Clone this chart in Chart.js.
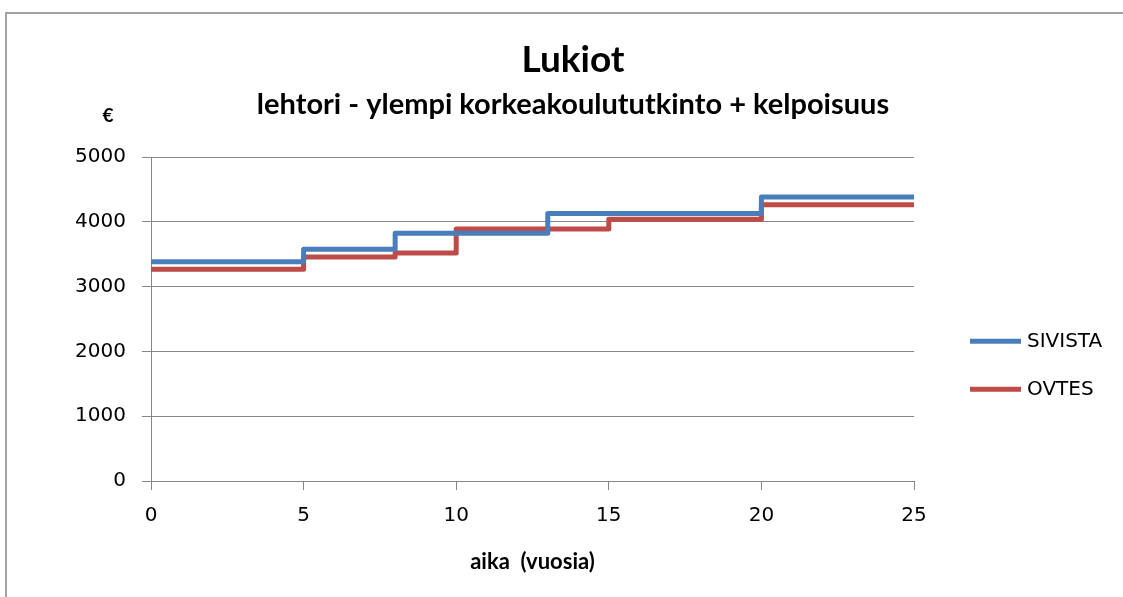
<!DOCTYPE html>
<html>
<head>
<meta charset="utf-8">
<script src="https://cdn.jsdelivr.net/npm/chart.js@4.4.1/dist/chart.umd.min.js"></script>
<style>
  body { margin: 0; background: #fff; }
  #frame { position: absolute; left: 5px; top: 12px; width: 1118px; height: 585px;
           border-top: 2px solid #a3a3a3; border-left: 2px solid #a3a3a3; }
  #wrap { position: absolute; left: 0; top: 0; width: 1123px; height: 597px; }
</style>
</head>
<body>
<div id="frame"></div>
<div id="wrap"><canvas id="chart"></canvas></div>
<script>
// year where a pay step starts, and the monthly pay (€) from that year on
const sivistaYears = [0, 5, 8, 13, 20, 25]
const sivistaPay = [3385, 3580, 3825, 4130, 4385, 4385]
const ovtesYears = [0, 5, 8, 10, 15, 20, 25]
const ovtesPay = [3270, 3460, 3520, 3890, 4040, 4265, 4265]

const xTicks = [0, 5, 10, 15, 20, 25]
const yTicks = [0, 1000, 2000, 3000, 4000, 5000]

const seriesNames = ["SIVISTA", "OVTES"]
const seriesColors = ["#4a7ebb", "#be4b48"]

const gridColor = "#878787"
const tickFont = { family: "DejaVu Sans", size: 20 }
const boldFont = "Lato"

function toPoints(xs, ys) {
    return xs.map((x, i) => ({ x: x, y: ys[i] }))
}

function makeSeries(i, points) {
    return {
        label: seriesNames[i],
        data: points,
        borderColor: seriesColors[i],
        backgroundColor: seriesColors[i],
        borderWidth: 5,
        borderJoinStyle: "round",
        // value holds until the next point, then jumps
        stepped: "before",
        pointRadius: 0,
        fill: false
    }
}

// legend on the right, drawn by hand so it can sit where Excel put it
const sideLegend = {
    id: "sideLegend",
    afterDraw(chart) {
        const ctx = chart.ctx
        const area = chart.chartArea
        ctx.save()
        ctx.font = "20px 'DejaVu Sans'"
        ctx.textBaseline = "middle"
        ctx.fillStyle = "#000"
        chart.data.datasets.forEach((ds, i) => {
            const y = area.top + 184 + i * 48
            ctx.strokeStyle = ds.borderColor
            ctx.lineWidth = 5
            ctx.beginPath()
            ctx.moveTo(area.right + 56, y)
            ctx.lineTo(area.right + 107, y)
            ctx.stroke()
            ctx.fillText(ds.label, area.right + 113, y + 1)
        })
        ctx.restore()
    }
}

// the "€" unit label above the y axis
const unitLabel = {
    id: "unitLabel",
    afterDraw(chart) {
        const ctx = chart.ctx
        const area = chart.chartArea
        ctx.save()
        ctx.font = "bold 19px " + boldFont
        ctx.textAlign = "center"
        ctx.textBaseline = "middle"
        ctx.fillStyle = "#000"
        ctx.fillText("€", area.left - 43, area.top - 41)
        ctx.restore()
    }
}

const chart = new Chart(document.getElementById("chart"), {
    type: "line",
    data: {
        datasets: [
            makeSeries(0, toPoints(sivistaYears, sivistaPay)),
            makeSeries(1, toPoints(ovtesYears, ovtesPay))
        ]
    },
    options: {
        responsive: true,
        maintainAspectRatio: false,
        animation: false,
        layout: { padding: { left: 23, top: 0, right: 0, bottom: 0 } },
        plugins: {
            legend: { display: false },
            tooltip: { enabled: false },
            title: {
                display: true,
                text: "Lukiot",
                color: "#000",
                font: { family: boldFont, size: 37, weight: "bold" },
                padding: { top: 38, bottom: 0 }
            },
            subtitle: {
                display: true,
                text: "lehtori - ylempi korkeakoulututkinto + kelpoisuus",
                color: "#000",
                font: { family: boldFont, size: 29, weight: "bold" },
                padding: { top: 5, bottom: 35 }
            }
        },
        scales: {
            x: {
                type: "linear",
                min: 0,
                max: 25,
                afterBuildTicks: (s) => { s.ticks = xTicks.map(v => ({ value: v })) },
                afterFit: (s) => { s.height = 116 },
                grid: { drawOnChartArea: false, color: gridColor, tickLength: 9 },
                border: { color: gridColor },
                ticks: { color: "#000", font: tickFont, padding: 14, maxRotation: 0,
                         callback: (v) => String(v) },
                title: {
                    display: true,
                    text: "aika  (vuosia)",
                    color: "#000",
                    font: { family: boldFont, size: 22, weight: "bold" },
                    padding: { top: 0, bottom: 22 }
                }
            },
            y: {
                min: 0,
                max: 5000,
                afterBuildTicks: (s) => { s.ticks = yTicks.map(v => ({ value: v })) },
                afterFit: (s) => { s.width = 128 },
                grid: { color: gridColor, tickLength: 9 },
                border: { color: gridColor },
                ticks: { color: "#000", font: tickFont, padding: 16,
                         callback: (v) => String(v) }
            },
            // empty axis on the right, keeps room for the legend
            side: {
                type: "linear",
                position: "right",
                grid: { display: false },
                border: { display: false },
                ticks: { display: false },
                afterFit: (s) => { s.width = 209 }
            }
        }
    },
    plugins: [sideLegend, unitLabel]
})
</script>
</body>
</html>
